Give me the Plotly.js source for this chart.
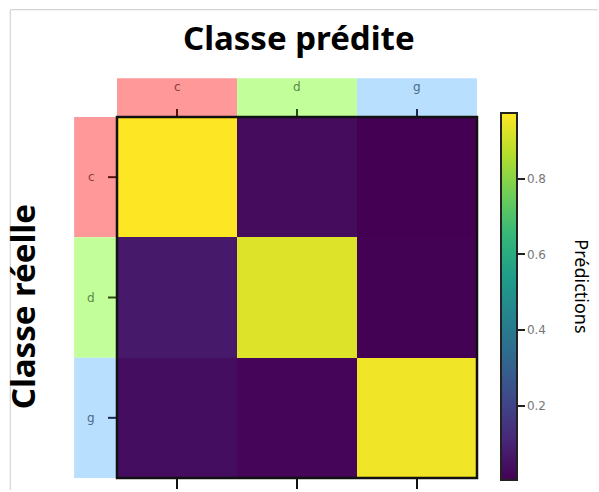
<!DOCTYPE html>
<html><head><meta charset="utf-8">
<script src="https://cdn.plot.ly/plotly-3.0.1.min.js"></script>
<style>body{margin:0;padding:0;background:#fff}#g{width:599px;height:492px}</style>
</head><body><div id="g"></div>
<script>
const predicted = ['c', 'd', 'g'];
const actual = ['c', 'd', 'g'];
const values = [
  [0.974, 0.030, 0.003],
  [0.070, 0.925, 0.005],
  [0.035, 0.018, 0.955]
];
const classColors = ['#ff9999', '#c2ff9a', '#b9dfff'];
const labelColors = ['#8e3b3b', '#5d8a48', '#4d6a86'];
const tickColors = ['#5a1010', '#2a4a1a', '#1a2a4a'];
const cbTicks = [0.2, 0.4, 0.6, 0.8];

const viridis = [[0,'#440154'],[0.111,'#482878'],[0.222,'#3e4989'],[0.333,'#31688e'],[0.444,'#26828e'],[0.556,'#1f9e89'],[0.667,'#35b779'],[0.778,'#6ece58'],[0.889,'#b5de2b'],[1,'#fde725']];

const trace = {
  type: 'heatmap', x: predicted, y: actual, z: values,
  colorscale: viridis, zmin: 0.003, zmax: 0.974, xgap: 0, ygap: 0,
  colorbar: {
    x: 1.066, xanchor: 'left', xpad: 0, ypad: 0,
    y: 0.5028, yanchor: 'middle', lenmode: 'pixels', len: 367,
    thickness: 16, outlinewidth: 2, outlinecolor: '#222',
    tickvals: cbTicks, ticktext: cbTicks.map(v => v.toFixed(1)),
    ticks: 'outside', ticklen: 7, tickwidth: 2, tickcolor: '#222',
    tickfont: {family: 'DejaVu Sans', size: 12, color: '#777'}
  },
  hoverinfo: 'skip'
};

const shapes = [];
const annotations = [];
const bandTop = 1 + 39/363;
const bandLeft = -43/361;
predicted.forEach((c, i) => {
  shapes.push({type:'rect', xref:'x', yref:'paper', x0:i-0.5, x1:i+0.5, y0:1, y1:bandTop, fillcolor:classColors[i], line:{width:0}, layer:'below'});
  annotations.push({xref:'x', yref:'paper', x:c, y:1 + 30/363, xanchor:'center', yanchor:'middle', text:c, showarrow:false, font:{family:'DejaVu Sans', size:12, color:labelColors[i]}});
  shapes.push({type:'line', xref:'x', yref:'paper', x0:i, x1:i, y0:1, y1:1+8/363, line:{color:tickColors[i], width:2}});
});
actual.forEach((c, i) => {
  shapes.push({type:'rect', xref:'paper', yref:'y', x0:bandLeft, x1:0, y0:i-0.5, y1:i+0.5, fillcolor:classColors[i], line:{width:0}, layer:'below'});
  annotations.push({xref:'paper', yref:'y', x:-26/361, y:c, xanchor:'center', yanchor:'middle', text:c, showarrow:false, font:{family:'DejaVu Sans', size:12, color:labelColors[i]}});
  shapes.push({type:'line', xref:'paper', yref:'y', x0:-9/361, x1:0, y0:i, y1:i, line:{color:tickColors[i], width:2}});
});
// outer frame lines
shapes.push({type:'line', xref:'paper', yref:'paper', x0:(10-117)/361, x1:(599-117)/361, y0:1+108/363, y1:1+108/363, line:{color:'#d4d4d4', width:1.2}});
shapes.push({type:'line', xref:'paper', yref:'paper', x0:(10-117)/361, x1:(10-117)/361, y0:1+108/363, y1:-12/363, line:{color:'#d4d4d4', width:1.2}});

annotations.push({xref:'paper', yref:'paper', x:(300-117)/361, y:1+(117-37)/363, xanchor:'center', yanchor:'middle', text:'<b>Classe prédite</b>', showarrow:false, font:{family:'Noto Sans', size:33, color:'#000'}});
annotations.push({xref:'paper', yref:'paper', x:(23-117)/361, y:(480-308)/363, xanchor:'center', yanchor:'middle', text:'<b>Classe réelle</b>', textangle:-90, showarrow:false, font:{family:'Noto Sans', size:33, color:'#000'}});
annotations.push({xref:'paper', yref:'paper', x:(583-117)/361, y:(480-287)/363, xanchor:'center', yanchor:'middle', text:'Prédictions', textangle:90, showarrow:false, font:{family:'Noto Sans', size:18, color:'#000'}});

const layout = {
  width: 599, height: 492,
  margin: {l:117, r:122, t:117, b:12},
  paper_bgcolor: '#fff', plot_bgcolor: '#fff',
  xaxis: {type:'category', showgrid:false, zeroline:false, showticklabels:false, ticks:'', showline:false, range:[-0.5,2.5], fixedrange:true},
  yaxis: {type:'category', showgrid:false, zeroline:false, showticklabels:false, ticks:'', showline:false, autorange:'reversed', fixedrange:true},
  xaxis2: {overlaying:'x', matches:'x', side:'bottom', anchor:'y', type:'category', showgrid:false, zeroline:false, showticklabels:false, ticks:'outside', ticklen:10, tickwidth:2, tickcolor:'#111', showline:false},
  shapes: shapes.concat([{type:'rect', xref:'paper', yref:'paper', x0:0, x1:1, y0:0, y1:1, line:{color:'#111', width:2.5}}]),
  annotations: annotations,
  showlegend: false
};
const dummy = {type:'scatter', x: predicted, y: actual, xaxis:'x2', yaxis:'y', mode:'markers', marker:{opacity:0}, hoverinfo:'skip', showlegend:false};
Plotly.newPlot('g', [trace, dummy], layout, {staticPlot:true});
</script></body></html>
